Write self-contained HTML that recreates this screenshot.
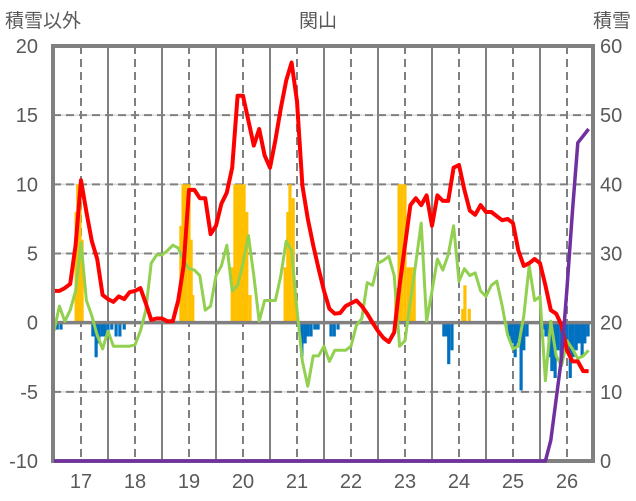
<!DOCTYPE html>
<html><head><meta charset="utf-8"><style>
body{margin:0;background:#fff}
svg{display:block;font-family:"Liberation Sans","Noto Sans CJK JP",sans-serif}
</style></head><body>
<svg id="chart" width="636" height="501" viewBox="0 0 636 501">
<text x="5" y="27" font-size="19" fill="#595959">積雪以外</text>
<text x="318" y="27" font-size="19" fill="#595959" text-anchor="middle">関山</text>
<text x="631" y="27" font-size="19" fill="#595959" text-anchor="end">積雪</text>
<g id="grid"></g><g id="bars"></g><g id="lines"></g><g id="axes"></g>
</svg>
<script>
const years=[17,18,19,20,21,22,23,24,25,26];
const leftTicks=[20,15,10,5,0,-5,-10];
const rightTicks=[60,50,40,30,20,10,0];
const t0=16.5, dt=0.1;
const redVals=[2.3,2.3,2.5,2.8,5.6,10.3,8,5.9,4.6,2.0,1.7,1.5,1.9,1.7,2.2,2.3,2.5,1.4,0.2,0.3,0.3,0.1,0.1,1.6,4.1,9.6,9.6,9,9,6.4,7,8.6,9.4,11.2,16.4,16.4,14.6,12.8,14,12.1,11.2,13.2,15.5,17.5,18.8,16,9.9,7.5,5.6,3.9,2.3,1.0,0.65,0.7,1.2,1.4,1.6,1.2,0.65,0,-0.6,-1.1,-1.4,-0.7,2.7,5.6,8.5,9,8.5,9.2,7,9.2,8.8,8.8,11.2,11.4,9.6,8.1,7.8,8.5,8,8,7.7,7.4,7.5,7.2,5.2,4.1,4.3,4.6,4.3,2.7,0.9,0.65,-0.2,-2,-2.8,-2.8,-3.5,-3.5];
const greenVals=[-0.6,1.2,0.1,0.9,2.3,5.8,1.6,0.5,-0.9,-1.9,-0.6,-1.7,-1.7,-1.7,-1.7,-1.6,-0.6,0.9,4.3,4.9,4.9,5.2,5.6,5.4,4.5,3.9,3.8,3.4,0.9,1.2,3.4,4.1,5.6,2.3,2.7,4.3,6.3,3.4,0.1,1.6,1.6,1.6,3.4,5.9,5.2,0.9,-2.8,-4.6,-2.4,-2.4,-1.7,-2.8,-2,-2,-2,-1.7,-0.2,0.3,2.9,2.7,4.3,4.5,4.8,3.4,-1.7,-1.3,1.6,4.3,7.2,0.1,2.3,4.6,3.8,4.9,7,3,3.9,3.4,3.6,2.3,1.9,2.7,3,1.2,-0.9,-1.9,-1.7,0.5,4.1,1.6,1.9,-4.2,0.1,-2.4,-3.1,-1.3,-1.9,-2.6,-2.4,-2];
const snowVals=[0,0,0,0,0,0,0,0,0,0,0,0,0,0,0,0,0,0,0,0,0,0,0,0,0,0,0,0,0,0,0,0,0,0,0,0,0,0,0,0,0,0,0,0,0,0,0,0,0,0,0,0,0,0,0,0,0,0,0,0,0,0,0,0,0,0,0,0,0,0,0,0,0,0,0,0,0,0,0,0,0,0,0,0,0,0,0,0,0,0,0,0,3,9,15,25,36,46,47,48];
const barTimes=[16.91,16.94,16.98,17.02,18.85,18.89,18.94,19.0,19.04,19.07,19.80,19.85,19.91,19.96,20.02,20.07,20.13,20.78,20.83,20.87,20.93,20.96,22.83,22.89,22.94,23.0,23.06,23.11,23.17,24.07,24.11,24.19,
16.56,16.63,17.22,17.28,17.33,17.39,17.44,17.5,17.57,17.65,17.72,17.8,21.09,21.15,21.2,21.26,21.33,21.39,21.63,21.69,21.76,23.72,23.78,23.81,23.87,24.93,24.98,25.04,25.09,25.15,25.2,25.26,25.56,25.61,25.67,25.72,25.78,25.83,25.89,25.94,26.0,26.06,26.11,26.17,26.22,26.28,26.33,26.39];
const barVals=[8,10,10,6,7,10,10,10,6,2,4,10,10,10,10,8,2,4,8,10,9,2,2.5,10,10,10,4,4,4,1,2.7,1,
-0.5,-0.5,-1,-2.5,-1.5,-1,-1,-1,-0.5,-1,-1,-0.5,-2.5,-1.5,-1,-1,-0.5,-0.5,-1,-1,-0.5,-1,-1,-3,-2,-1,-1.5,-2.5,-1.5,-4.9,-2,-1,-0.5,-1,-2.5,-3.5,-4,-2,-3,-1.5,-2,-4,-2.5,-2,-1.5,-2.5,-1.5,-1];

const NS='http://www.w3.org/2000/svg';
const L=53,R=593,T=46,B=461;
const xs=t=>81+(t-17)*54;
const yl=v=>B-(v+10)*(B-T)/30;
const yr=v=>B-v*(B-T)/60;
function mk(tag,attrs,parent){const e=document.createElementNS(NS,tag);for(const k in attrs)e.setAttribute(k,attrs[k]);document.getElementById(parent).appendChild(e);return e;}
const G='#808080';
// horizontal gridlines
leftTicks.forEach(v=>{
  if(v===20||v===-10||v===0)return;
  const g=mk('line',{x1:L,x2:R,y1:yl(v),y2:yl(v),stroke:'#d9d9d9','stroke-width':1.5},'grid');
  
  
  const d=mk('line',{x1:L,x2:R,y1:yl(v),y2:yl(v),stroke:G,'stroke-width':2,'stroke-dasharray':'8,5'},'grid');
  
  
});
// vertical gridlines
years.forEach(y=>{
  const d=mk('line',{x1:xs(y),x2:xs(y),y1:T,y2:B,stroke:G,'stroke-width':2,'stroke-dasharray':'8,5'},'grid');
  
  
  if(y<26){const s=mk('line',{x1:xs(y+0.5),x2:xs(y+0.5),y1:T,y2:B,stroke:G,'stroke-width':2},'grid');
  
  }
});
// bars
barTimes.forEach((t,i)=>{
  const v=barVals[i];const y0=yl(0),y1=yl(v);
  const b=mk('rect',{x:xs(t)-1.6,width:3.2,y:Math.min(y0,y1),height:Math.abs(y1-y0),fill:v>=0?'#ffc000':'#0070c0'},'bars');
  
  
});
const z=mk('line',{x1:L,x2:R,y1:yl(0),y2:yl(0),stroke:G,'stroke-width':3.5},'grid');


document.getElementById('grid').after(document.getElementById('bars'));
document.getElementById('bars').appendChild(z);
function line(vals,yf,color,w,name){
  const p=vals.map((v,i)=>xs(t0+dt*i).toFixed(1)+','+yf(v).toFixed(1)).join(' ');
  const e=mk('polyline',{points:p,fill:'none',stroke:color,'stroke-width':w,'stroke-linejoin':'round'},'lines');
  return e;
}
const gl=line(greenVals,yl,'#92d050',3,'green');


const rl=line(redVals,yl,'#ff0000',4,'red');


// frame
const f=mk('rect',{x:L,y:T,width:R-L,height:B-T,fill:'none',stroke:G,'stroke-width':4},'axes');


const pl=line(snowVals,yr,'#7030a0',3.5,'purple');
document.getElementById('axes').appendChild(pl);


// tick labels
leftTicks.forEach(v=>{
  const t=mk('text',{x:38,y:yl(v)+7,'font-size':20,fill:'#595959','text-anchor':'end'},'axes');t.textContent=v;
  
  
});
rightTicks.forEach(v=>{
  const t=mk('text',{x:600,y:yr(v)+7,'font-size':20,fill:'#595959'},'axes');t.textContent=v;
  
  
});
years.forEach(y=>{
  const t=mk('text',{x:xs(y),y:488,'font-size':20,fill:'#595959','text-anchor':'middle'},'axes');t.textContent=y;
  
  
});
</script>
</body></html>
